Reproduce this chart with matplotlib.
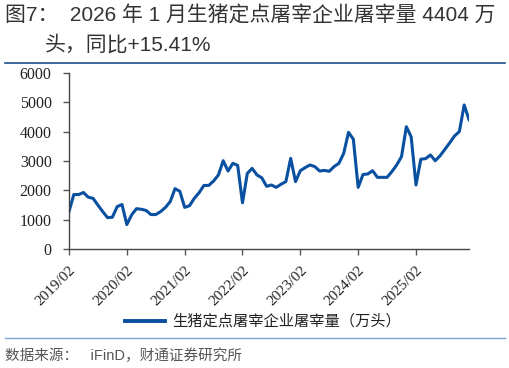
import numpy as np
import matplotlib
matplotlib.use("Agg")
import matplotlib.pyplot as plt
from matplotlib.lines import Line2D

# monthly slaughter volume, 2019/02 .. 2026/01 (万头)
values = [
    1280, 1860, 1860, 1930, 1770, 1730, 1500, 1280, 1075, 1090, 1450, 1520,   # 2019/02-2020/01
    840, 1170, 1380, 1360, 1320, 1180, 1180, 1280, 1420, 1620, 2060, 1970,     # 2020/02-2021/01
    1425, 1480, 1730, 1925, 2170, 2170, 2320, 2525, 3010, 2660, 2920, 2850,    # 2021/02-2022/01
    1580, 2580, 2750, 2525, 2430, 2140, 2185, 2105, 2210, 2300, 3090, 2300,    # 2022/02-2023/01
    2670, 2775, 2865, 2810, 2660, 2680, 2650, 2810, 2920, 3260, 3975, 3740,    # 2023/02-2024/01
    2105, 2540, 2560, 2670, 2445, 2445, 2445, 2640, 2865, 3150, 4165, 3822,    # 2024/02-2025/01
    2185, 3060, 3080, 3205, 3010, 3180, 3395, 3620, 3850, 4000, 4905, 4404,    # 2025/02-2026/01
]
tick_labels = ["2019/02", "2020/02", "2021/02", "2022/02", "2023/02", "2024/02", "2025/02"]
y_ticks = [0, 1000, 2000, 3000, 4000, 5000, 6000]
legend_label = "生猪定点屠宰企业屠宰量（万头）"
title_1 = "图7：  2026 年 1 月生猪定点屠宰企业屠宰量 4404 万"
title_2 = "头，同比+15.41%"
source = "数据来源：   iFinD，财通证券研究所"

cjk = ["Liberation Sans", "Noto Sans CJK SC"]
plt.rcParams["font.family"] = cjk

fig = plt.figure(figsize=(5.10, 3.68), dpi=100)
ax = fig.add_axes([69 / 510, 1 - 249.3 / 368, 400 / 510, (249.3 - 72.7) / 368])

x = np.arange(len(values))
ax.plot(x, values, color="#0a50a0", lw=2.2)

ax.set_xlim(0, len(values) - 1)
ax.set_ylim(0, 6000)
ax.set_yticks(y_ticks)
ax.set_yticklabels([str(v) for v in y_ticks], family="Liberation Serif", fontsize=11.5)
ax.set_xticks(np.arange(len(tick_labels)) * 12)
ax.set_xticklabels(tick_labels, family="Liberation Serif", fontsize=11,
                   rotation=45, ha="right", va="top", rotation_mode="anchor")
ax.tick_params(axis="both", length=4.5, width=1, color="#555555", labelcolor="#222222")
ax.tick_params(axis="y", pad=8)
ax.tick_params(axis="x", pad=6)
for s in ["top", "right"]:
    ax.spines[s].set_visible(False)
for s in ["left", "bottom"]:
    ax.spines[s].set_color("#444444")
    ax.spines[s].set_linewidth(1.0)

# title
fig.text(5 / 510, 1 - 16 / 368, title_1, fontsize=15, color="#333333", va="center")
fig.text(45 / 510, 1 - 45 / 368, title_2, fontsize=15, color="#333333", va="center")
fig.add_artist(Line2D([5 / 510, 505 / 510], [1 - 63 / 368] * 2, color="#1f4e8c", lw=1.2))

# legend
fig.add_artist(Line2D([125 / 510, 165 / 510], [1 - 321 / 368] * 2, color="#0a50a0", lw=2.8))
fig.text(172 / 510, 1 - 321 / 368, legend_label, fontsize=11, color="#222222", va="center",
         family=["Noto Sans CJK SC"])

fig.add_artist(Line2D([5 / 510, 505 / 510], [1 - 338 / 368] * 2, color="#7aa7d8", lw=1.0))
fig.text(5 / 510, 1 - 356 / 368, source, fontsize=10.5, color="#555555", va="center")

fig.savefig("out.png", dpi=100)
